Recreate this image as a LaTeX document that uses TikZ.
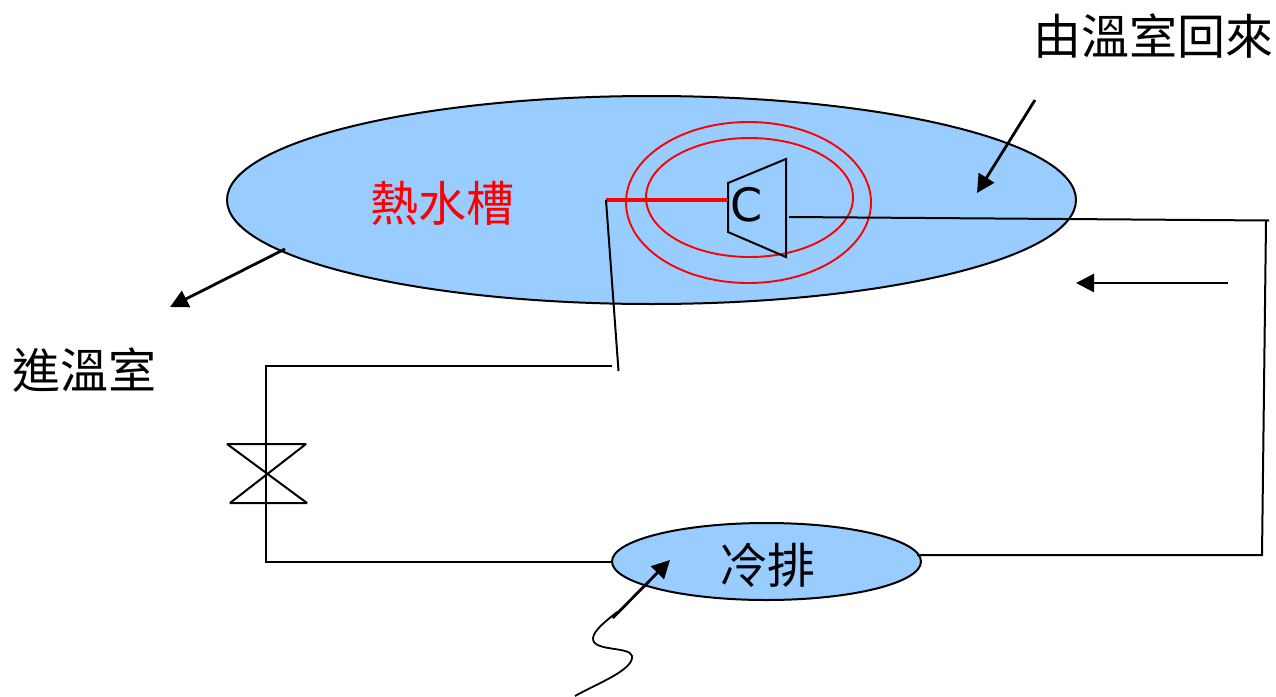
\documentclass[tikz,border=0pt]{standalone}
\usepackage{fontspec}
\usetikzlibrary{shapes.geometric,arrows.meta}
\newfontfamily\cjk{Noto Sans CJK TC}
\newfontfamily\latinC{DejaVu Sans}
\definecolor{tankblue}{RGB}{153,204,255}
\tikzset{
  x=1pt,y=-1pt,
  tank/.style={ellipse,draw=black,line width=2pt,fill=tankblue,inner sep=0pt,outer sep=0pt},
  coil/.style={ellipse,draw=red,line width=1.9pt,inner sep=0pt,outer sep=0pt},
  pipe/.style={draw=black,line width=2pt},
  flow/.style={draw=black,line width=2.8pt,-{Triangle[length=18pt,width=18pt]},shorten >=0pt},
  hanzi/.style={font=\cjk\fontsize{48}{48}\selectfont,inner sep=0pt,outer sep=0pt,anchor=center}
}
\begin{document}
\begin{tikzpicture}
\useasboundingbox (0,0) rectangle (1276,696);
\fill[white] (0,0) rectangle (1276,696);
% tanks
\node[tank,minimum width=849pt,minimum height=208pt] (hot) at (651.5,200) {};
\node[tank,minimum width=309pt,minimum height=77pt] (cold) at (766.5,561.5) {};
% coil
\node[coil,minimum width=245pt,minimum height=161pt] (coilO) at (748.5,202.5) {};
\node[coil,minimum width=207pt,minimum height=119pt] (coilI) at (749.5,197.5) {};
% coordinates
\coordinate (cA) at (728,183);
\coordinate (cB) at (786,159);
\coordinate (cC) at (786,257);
\coordinate (cD) at (728,232);
\coordinate (cOut) at (728,200);
\coordinate (tee) at (606,200);
\coordinate (stub) at (618.5,371);
\coordinate (lineL) at (612,366);
\coordinate (cornerTL) at (266,366);
\coordinate (cornerBL) at (266,562);
\coordinate (coldL) at (612,562);
\coordinate (compR) at (789,217);
\coordinate (cornerTR) at (1269,220.5);
\coordinate (cornerTR2) at (1266,221);
\coordinate (cornerBR) at (1262,555);
\coordinate (coldR) at (917,555);
\coordinate (vA) at (227,444);
\coordinate (vB) at (306,444);
\coordinate (vC) at (230,503);
\coordinate (vD) at (307,503);
\coordinate (a1s) at (1228,283);
\coordinate (a1e) at (1076,283);
\coordinate (a2s) at (1035,100);
\coordinate (a2e) at (977,193);
\coordinate (a3s) at (285,249);
\coordinate (a3e) at (170,307);
\coordinate (a4s) at (612.7,618);
\coordinate (a4e) at (670,560);
\coordinate (w0) at (575,696);
\coordinate (w1) at (632,656);
\coordinate (w2) at (593,638);
\coordinate (w3) at (617,612);
% compressor
\draw[pipe,line join=miter] (cA) -- (cB) -- (cC) -- (cD) -- cycle;
\draw[draw=red,line width=3.6pt] (tee) -- (cOut);
% pipes
\draw[pipe] (tee) -- (stub);
\draw[pipe] (lineL) -- (cornerTL) -- (cornerBL) -- (coldL);
\draw[pipe] (compR) -- (cornerTR);
\draw[pipe] (cornerTR2) -- (cornerBR) -- (coldR);
% valve
\draw[pipe,line join=bevel] (vA) -- (vB) -- (vC) -- (vD) -- cycle;
% flow arrows
\draw[flow] (a1s) -- (a1e);
\draw[flow] (a2s) -- (a2e);
\draw[flow] (a3s) -- (a3e);
\draw[flow] (a4s) -- (a4e);
% wavy
\draw[draw=black,line width=1.8pt] (w0) .. controls (596,684) and (634,670) .. (w1)
  .. controls (630,646) and (592,652) .. (w2) .. controls (594,630) and (606,621) .. (w3);
% labels
\node[hanzi] (t1) at (1153.5,36) {由溫室回來};
\node[hanzi] (t2) at (442,203) {\color{red}熱水槽};
\node[hanzi] (t3) at (84.5,370) {進溫室};
\node[hanzi] (t4) at (767.5,565) {冷排};
\node[font=\latinC\fontsize{46}{46}\selectfont,inner sep=0pt] (t5) at (747,205) {C};
\end{tikzpicture}
\end{document}
